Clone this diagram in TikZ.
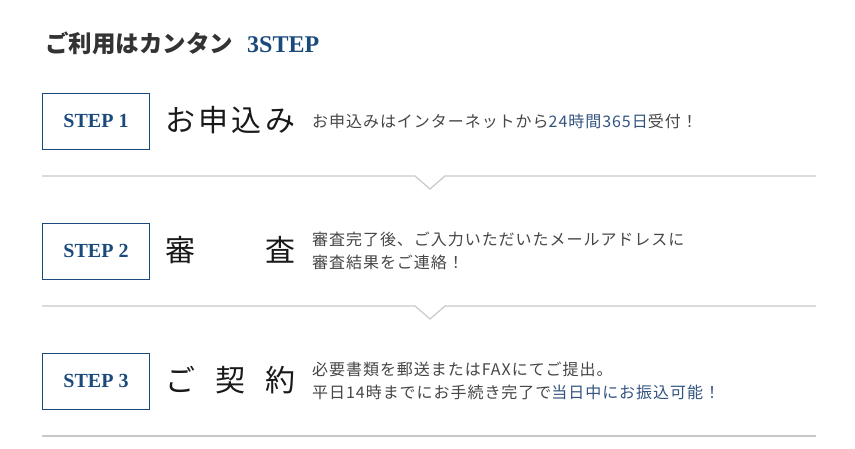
\documentclass[tikz,border=0pt]{standalone}
\usepackage{fontspec}
\setmainfont{Liberation Serif}
\newfontfamily\jp[LetterSpace=6]{Noto Sans CJK JP}
\newfontfamily\jphead{Noto Sans CJK JP}
\usepackage{tikz}

\definecolor{stepblue}{RGB}{26,74,124}
\definecolor{linkblue}{RGB}{52,84,128}
\definecolor{textgray}{RGB}{70,70,70}
\definecolor{sepgray}{RGB}{200,200,200}

\tikzset{
  stepbox/.style={draw=stepblue, line width=1pt, minimum width=107pt, minimum height=56pt,
    inner sep=0pt, text=stepblue, font=\bfseries\fontsize{20}{20}\selectfont},
  headtext/.style={anchor=west, inner sep=0pt, text=black!90,
    font=\jphead\fontsize{30}{30}\selectfont},
  desctext/.style={anchor=west, inner sep=0pt, align=left, text=textgray,
    font=\jp\fontsize{16}{23}\selectfont},
  sepline/.style={draw=sepgray, line width=1.2pt}
}

\begin{document}
\begin{tikzpicture}[x=1pt,y=1pt,yscale=-1,xscale=1]
        \path[use as bounding box] (0,0) rectangle (855,448);

        % Text Node
        \node [anchor=west, inner sep=0pt, text=black!80] (title) at (45,43)
          {{\jphead\bfseries\fontsize{23.5}{23.5}\selectfont ご利用はカンタン}\hspace{14pt}{\color{stepblue}\bfseries\fontsize{24}{24}\selectfont 3STEP}};

        % Step 1
        \node [stepbox] (step1) at (96,121) {STEP 1};
        \node [headtext] (head1) at (165,120) {\makebox[130pt][s]{お\hfill 申\hfill 込\hfill み}};
        \node [desctext] (desc1) at (312,121) {お申込みはインターネットから{\color{linkblue}24時間365日}受付！};
        %Straight Lines
        \draw [sepline] (42,176) -- (415,176) -- (430,189) -- (445,176) -- (816,176);

        % Step 2
        \node [stepbox] (step2) at (96,251) {STEP 2};
        \node [headtext] (head2) at (165,250) {\makebox[130pt][s]{審\hfill 査}};
        \node [desctext] (desc2) at (312,251) {審査完了後、ご入力いただいたメールアドレスに\\審査結果をご連絡！};
        %Straight Lines
        \draw [sepline] (42,306) -- (415,306) -- (430,319) -- (445,306) -- (816,306);

        % Step 3
        \node [stepbox] (step3) at (96,381) {STEP 3};
        \node [headtext] (head3) at (165,380) {\makebox[130pt][s]{ご\hfill 契\hfill 約}};
        \node [desctext] (desc3) at (312,381) {必要書類を郵送またはFAXにてご提出。\\平日14時までにお手続き完了で{\color{linkblue}当日中にお振込可能！}};
        %Straight Lines
        \draw [sepline] (42,436) -- (816,436);

\end{tikzpicture}
\end{document}
